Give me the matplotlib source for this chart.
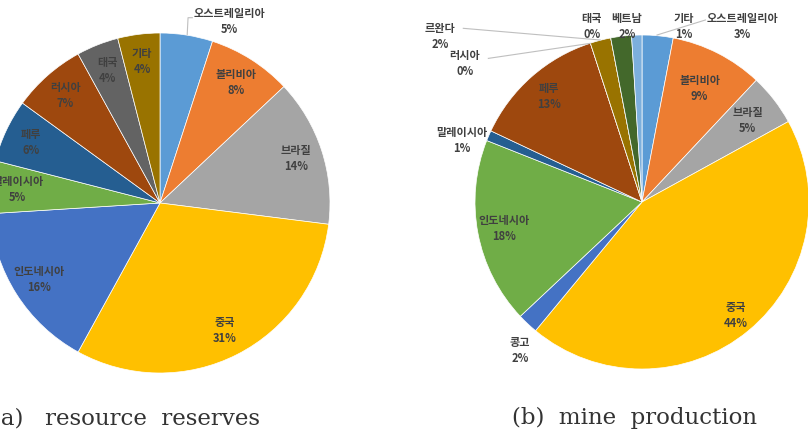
import matplotlib
matplotlib.use("Agg")
import matplotlib.pyplot as plt
import numpy as np

plt.rcParams['font.family'] = ['Noto Sans CJK KR', 'DejaVu Sans']

# (a) resource reserves, clockwise from 12 o'clock
res_names = ['오스트레일리아', '볼리비아', '브라질', '중국', '인도네시아',
             '말레이시아', '페루', '러시아', '태국', '기타']
res_vals = [5, 8, 14, 31, 16, 5, 6, 7, 4, 4]

# (b) mine production, clockwise from 12 o'clock
prod_names = ['오스트레일리아', '볼리비아', '브라질', '중국', '콩고', '인도네시아',
              '말레이시아', '페루', '러시아', '르완다', '태국', '베트남', '기타']
prod_vals = [3, 9, 5, 44, 2, 18, 1, 13, 0, 2, 0, 2, 1]

palette = {'오스트레일리아': '#5B9BD5', '볼리비아': '#ED7D31', '브라질': '#A5A5A5',
           '중국': '#FFC000', '인도네시아': '#4472C4', '말레이시아': '#70AD47',
           '페루': '#255E91', '러시아': '#9E480E', '태국': '#636363', '기타': '#997300'}
palette_b = {'오스트레일리아': '#5B9BD5', '볼리비아': '#ED7D31', '브라질': '#A5A5A5',
             '중국': '#FFC000', '콩고': '#4472C4', '인도네시아': '#70AD47',
             '말레이시아': '#255E91', '페루': '#9E480E', '러시아': '#636363',
             '르완다': '#997300', '태국': '#264478', '베트남': '#43682B', '기타': '#7CAFDD'}

W, H = 808, 438
fig = plt.figure(figsize=(W / 100, H / 100), dpi=100)

def pie_axes(cx, cy, r):
    ax = fig.add_axes([(cx - r) / W, (H - cy - r) / H, 2 * r / W, 2 * r / H])
    return ax

lab_kw = dict(fontsize=8, fontweight='bold', color='#404040',
              ha='center', va='center', linespacing=1.3)
line_kw = dict(color='#BFBFBF', lw=0.8)

def draw_pie(ax, names, vals, colors, dist, outside):
    wedges, _ = ax.pie(vals, colors=colors, startangle=90, counterclock=False,
                       radius=1, wedgeprops=dict(edgecolor='white', linewidth=0.5))
    ax.set_xlim(-1, 1)
    ax.set_ylim(-1, 1)
    ax.set_aspect('equal')
    ax.axis('off')
    for w, n, v in zip(wedges, names, vals):
        txt = f'{n}\n{v}%'
        if n in outside:
            x, y, line = outside[n]
            ax.text(x, y, txt, clip_on=False, **lab_kw)
            if line:
                xs, ys = zip(*line)
                ax.plot(xs, ys, clip_on=False, **line_kw)
        else:
            a = np.deg2rad((w.theta1 + w.theta2) / 2)
            d = dist.get(n, 0.84)
            ax.text(d * np.cos(a), d * np.sin(a), txt, **lab_kw)

# left pie
ax1 = pie_axes(160, 203, 170)
draw_pie(ax1, res_names, res_vals, [palette[n] for n in res_names],
         {}, {'오스트레일리아': (0.41, 1.07, [(0.16, 0.99), (0.165, 1.09), (0.19, 1.09)])})

# right pie
ax2 = pie_axes(642, 202, 167)
draw_pie(ax2, prod_names, prod_vals, [palette_b[n] for n in prod_names],
         {'볼리비아': 0.76, '브라질': 0.8, '중국': 0.88},
         {'콩고': (-0.73, -0.89, None),
          '말레이시아': (-1.08, 0.37, None),
          '러시아': (-1.06, 0.83, [(-0.92, 0.86), (-0.31, 0.95)]),
          '르완다': (-1.21, 0.99, [(-1.07, 1.04), (-0.25, 0.97)]),
          '태국': (-0.30, 1.05, None),
          '베트남': (-0.09, 1.05, None),
          '기타': (0.25, 1.05, None),
          '오스트레일리아': (0.60, 1.05, [(0.38, 1.09), (0.09, 1.0)])})

cap_kw = dict(fontsize=16.5, family='DejaVu Serif', color='#333333', va='center')
fig.text(-8 / W, 1 - 418 / H, '(a)   resource  reserves', ha='left', **cap_kw)
fig.text(635 / W, 1 - 418 / H, '(b)  mine  production', ha='center', **cap_kw)

fig.savefig('out.png', dpi=100)
